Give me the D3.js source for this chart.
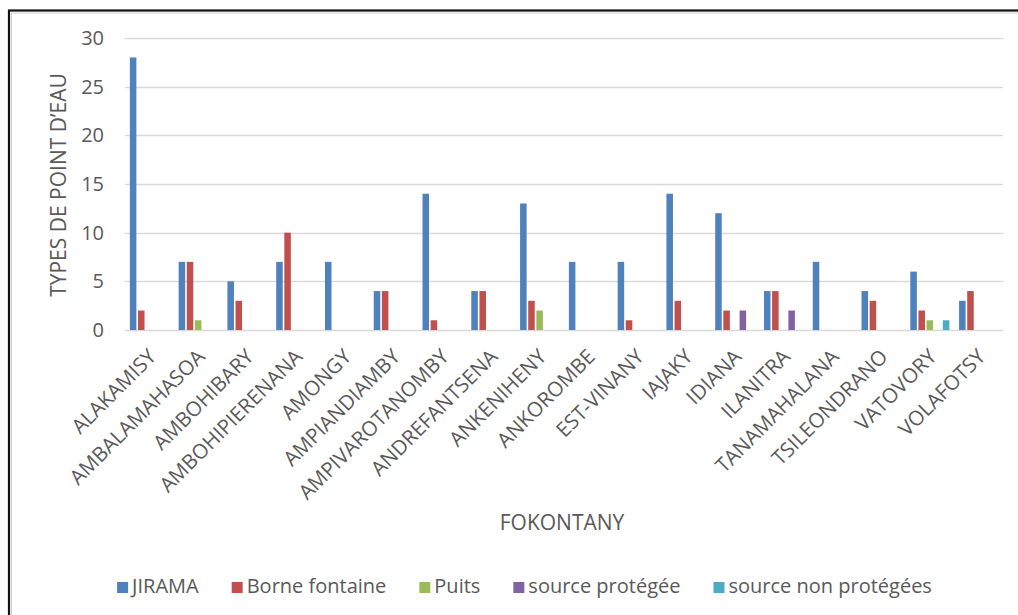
<!DOCTYPE html>
<html>
<head>
<meta charset="utf-8">
<script src="https://cdn.jsdelivr.net/npm/d3@7"></script>
<style>
  html, body { margin: 0; padding: 0; background: #fff; }
  svg { display: block; }
  text { font-family: "Open Sans", "Noto Sans", sans-serif; fill: #595959; }
</style>
</head>
<body>
<svg id="chart" width="1018" height="615"></svg>
<script>
// Fokontany (x categories)
const categories = [
  "ALAKAMISY", "AMBALAMAHASOA", "AMBOHIBARY", "AMBOHIPIERENANA", "AMONGY",
  "AMPIANDIAMBY", "AMPIVAROTANOMBY", "ANDREFANTSENA", "ANKENIHENY", "ANKOROMBE",
  "EST-VINANY", "IAJAKY", "IDIANA", "ILANITRA", "TANAMAHALANA",
  "TSILEONDRANO", "VATOVORY", "VOLAFOTSY"
];

// Series names
const seriesNames = ["JIRAMA", "Borne fontaine", "Puits", "source protégée", "source non protégées"];

// Number of water points per fokontany, one array per series
const jirama          = [28, 7, 5, 7, 7, 4, 14, 4, 13, 7, 7, 14, 12, 4, 7, 4, 6, 3];
const borneFontaine   = [2, 7, 3, 10, 0, 4, 1, 4, 3, 0, 1, 3, 2, 4, 0, 3, 2, 4];
const puits           = [0, 1, 0, 0, 0, 0, 0, 0, 2, 0, 0, 0, 0, 0, 0, 0, 1, 0];
const sourceProtegee  = [0, 0, 0, 0, 0, 0, 0, 0, 0, 0, 0, 0, 2, 2, 0, 0, 0, 0];
const sourceNonProteg = [0, 0, 0, 0, 0, 0, 0, 0, 0, 0, 0, 0, 0, 0, 0, 0, 1, 0];

const seriesValues = [jirama, borneFontaine, puits, sourceProtegee, sourceNonProteg];
const seriesColors = ["#4F81BD", "#C0504D", "#9BBB59", "#8064A2", "#4BACC6"];

// Y axis ticks
const yTicks = [0, 5, 10, 15, 20, 25, 30];

// Axis titles
const yTitle = "TYPES DE POINT D\u2019EAU";
const xTitle = "FOKONTANY";

const svg = d3.select("#chart");

// Outer frame
svg.append("rect")
  .attr("x", 9).attr("y", 10.5)
  .attr("width", 1100).attr("height", 700)
  .attr("fill", "none").attr("stroke", "#111").attr("stroke-width", 2.2);
svg.append("rect")
  .attr("x", 11.5).attr("y", 13)
  .attr("width", 1100).attr("height", 700)
  .attr("fill", "none").attr("stroke", "#d0d0d0").attr("stroke-width", 1);

const plot = { left: 125, right: 1003, top: 38, bottom: 330 };

const x = d3.scaleBand()
  .domain(categories)
  .range([plot.left, plot.right])
  .paddingInner(0).paddingOuter(0);

const xs = d3.scaleBand()
  .domain(d3.range(seriesNames.length))
  .range([0, x.bandwidth()])
  .paddingInner(0)
  .paddingOuter(0.5);

const y = d3.scaleLinear()
  .domain([0, 30])
  .range([plot.bottom, plot.top]);

// Gridlines
svg.append("g")
  .selectAll("line")
  .data(yTicks)
  .join("line")
  .attr("x1", plot.left).attr("x2", plot.right)
  .attr("y1", d => Math.round(y(d)) + 0.5)
  .attr("y2", d => Math.round(y(d)) + 0.5)
  .attr("stroke", "#d9d9d9")
  .attr("stroke-width", 1.5);

// Y axis labels
const yAxis = d3.axisLeft(y).tickValues(yTicks).tickSize(0).tickPadding(0);
const gy = svg.append("g")
  .attr("transform", `translate(${plot.left - 21},0)`)
  .call(yAxis);
gy.select(".domain").remove();
gy.selectAll("text")
  .attr("font-size", 20)
  .attr("fill", "#595959")
  .attr("font-family", "Open Sans, sans-serif")
  .attr("dy", "0.32em");

// Bars
const groups = svg.append("g")
  .selectAll("g")
  .data(categories)
  .join("g")
  .attr("transform", d => `translate(${x(d)},0)`);

groups.selectAll("rect")
  .data((c, i) => seriesValues.map((vals, s) => ({ s, v: vals[i] })).filter(d => d.v > 0))
  .join("rect")
  .attr("x", d => xs(d.s) + 0.8)
  .attr("width", xs.bandwidth() - 1.6)
  .attr("y", d => y(d.v))
  .attr("height", d => y(0) - y(d.v))
  .attr("fill", d => seriesColors[d.s]);

// X axis labels (rotated)
const xAxis = d3.axisBottom(x).tickSize(0).tickPadding(0);
const gx = svg.append("g")
  .attr("transform", `translate(0,${plot.bottom})`)
  .call(xAxis);
gx.select(".domain").remove();
gx.selectAll(".tick text")
  .attr("font-size", 20.5)
  .attr("fill", "#595959")
  .attr("font-family", "Open Sans, sans-serif")
  .attr("text-anchor", "end")
  .attr("dy", null)
  .attr("y", null)
  .attr("transform", "translate(8,28) rotate(-45)");

// Axis titles
svg.append("text")
  .attr("transform", "translate(66,185) rotate(-90)")
  .attr("text-anchor", "middle")
  .attr("font-size", 21)
  .text(yTitle);

svg.append("text")
  .attr("x", 562).attr("y", 530)
  .attr("text-anchor", "middle")
  .attr("font-size", 21)
  .text(xTitle);

// Legend, laid out from measured label widths
const legend = svg.append("g");
const items = legend.selectAll("g")
  .data(seriesNames)
  .join("g");
items.append("rect")
  .attr("width", 11).attr("height", 11)
  .attr("y", 582)
  .attr("fill", (d, i) => seriesColors[i]);
items.append("text")
  .attr("x", 15).attr("y", 593)
  .attr("font-size", 20)
  .text(d => d);

let cursor = 0;
const offsets = [];
items.each(function () {
  const w = 15 + d3.select(this).select("text").node().getComputedTextLength();
  offsets.push(cursor);
  cursor += w + 33;
});
const totalW = cursor - 33;
const startX = 524.5 - totalW / 2;
items.attr("transform", (d, i) => `translate(${startX + offsets[i]},0)`);
</script>
</body>
</html>
